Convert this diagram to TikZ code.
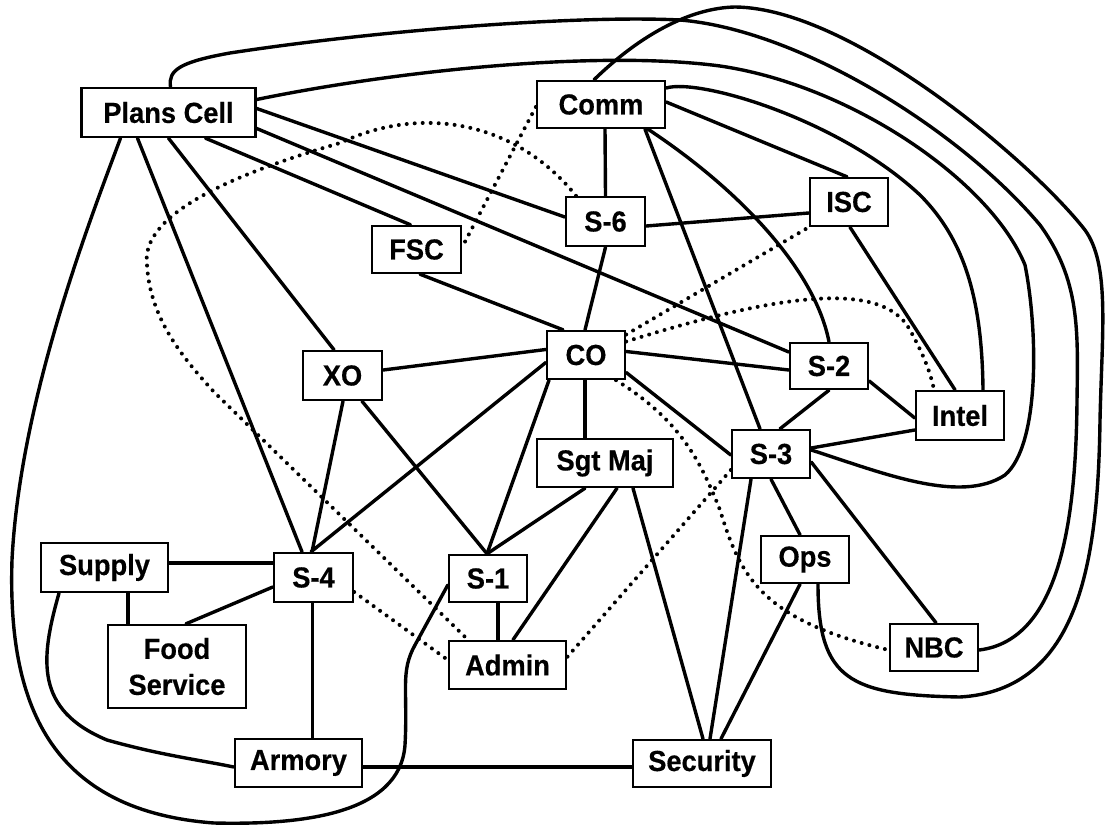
\documentclass[tikz,border=0pt]{standalone}
\usepackage{fontspec}
\setmainfont{Liberation Sans}[FakeStretch=0.94, BoldFeatures={FakeBold=0.4}]
\pgfdeclarelayer{bg}
\pgfsetlayers{bg,main}
\tikzset{
  box/.style={draw, line width=2.4pt, fill=white, inner sep=0pt, minimum height=47pt,
    font=\fontsize{29}{36}\selectfont\bfseries, align=center},
  link/.style={line width=3.4pt, line join=round, line cap=round},
  dots/.style={line width=4pt, dash pattern=on 0pt off 8pt, line cap=round},
}
\begin{document}
\begin{tikzpicture}[x=1pt,y=-1pt]
\useasboundingbox (0,0) rectangle (1107,826);

% units and staff sections
\node[box, minimum width=174pt, minimum height=49pt] (pc) at (168.5,112.5) {Plans Cell};
\node[box, minimum width=128pt] (comm) at (601,104.5) {Comm};
\node[box, minimum width=79pt, minimum height=49pt] (s6) at (605.5,221.5) {S-6};
\node[box, minimum width=78pt, minimum height=48pt] (isc) at (849,202) {ISC};
\node[box, minimum width=89pt] (fsc) at (416.5,249.5) {FSC};
\node[box, minimum width=78pt, minimum height=48pt] (co) at (586,355) {CO};
\node[box, minimum width=79pt, minimum height=49pt] (xo) at (342.5,375.5) {XO};
\node[box, minimum width=78pt, minimum height=46pt] (s2) at (829,366) {S-2};
\node[box, minimum width=88pt, minimum height=49pt] (intel) at (960,415.5) {Intel};
\node[box, minimum width=78pt, minimum height=48pt] (s3) at (771,454) {S-3};
\node[box, minimum width=136pt, minimum height=48pt] (sgt) at (605,463) {Sgt Maj};
\node[box, minimum width=88pt] (ops) at (805,559.5) {Ops};
\node[box, minimum width=88pt] (nbc) at (934,647.5) {NBC};
\node[box, minimum width=127pt, minimum height=49pt] (supply) at (104.5,567.5) {Supply};
\node[box, minimum width=79pt, minimum height=49pt] (s4) at (313.5,577.5) {S-4};
\node[box, minimum width=78pt] (s1) at (488,578.5) {S-1};
\node[box, minimum width=138pt, minimum height=83pt] (food) at (177,666.5) {Food\\Service};
\node[box, minimum width=117pt, minimum height=48pt] (admin) at (507.5,665) {Admin};
\node[box, minimum width=127pt, minimum height=48pt] (armory) at (298.5,763) {Armory};
\node[box, minimum width=138pt] (security) at (702,763.5) {Security};

\begin{pgfonlayer}{bg}
% Plans Cell
\draw[link] ([yshift=4pt]pc.east) -- ([yshift=4.5pt]s6.west);
\draw[link] ([yshift=-16pt]pc.east) -- ([yshift=14pt]s2.west);
\draw[link] ([xshift=37pt]pc.south) -- ([xshift=-6pt]fsc.north);
\draw[link] (pc.south) -- ([xshift=-8.5pt]xo.north);
\draw[link] ([xshift=-31pt]pc.south) -- ([xshift=-11.5pt]s4.north);
\draw[link] ([xshift=-48pt]pc.south) .. controls (90,220) and (20,400) .. (12,560)
  .. controls (8,690) and (40,810) .. (214,823)
  .. controls (300,825) and (400,815) .. (405,745)
  .. controls (408,690) and (400,672) .. (415,645) -- ([yshift=-6.5pt]s1.west);
\draw[link] ([xshift=2pt]pc.north) .. controls (168,70) and (180,62) .. (230,53)
  .. controls (380,30) and (580,15) .. (680,20)
  .. controls (800,30) and (960,130) .. (1040,225)
  .. controls (1080,280) and (1078,330) .. (1077,400)
  .. controls (1076,520) and (1060,640) .. ([yshift=-2.5pt]nbc.east);

% Comm
\draw[link] ([xshift=-7pt]comm.north) .. controls (640,35) and (690,8) .. (735,7)
  .. controls (850,8) and (1030,160) .. (1085,230)
  .. controls (1110,265) and (1102,330) .. (1100,420)
  .. controls (1098,560) and (1080,690) .. (960,697)
  .. controls (850,695) and (818,680) .. ([xshift=13pt]ops.south);
\draw[link] ([yshift=16.5pt]comm.east) .. controls (700,78) and (840,120) .. (920,195)
  .. controls (965,240) and (982,300) .. ([xshift=23pt]intel.north);
\draw[link] ([yshift=2.5pt]comm.east) -- ([xshift=-2pt]isc.north);
\draw[link] ([xshift=4pt]comm.south) -- (s6.north);
\draw[link] ([xshift=44pt]comm.south) -- ([xshift=-11pt]s3.north);
\draw[link] ([xshift=47pt]comm.south) .. controls (740,190) and (815,270) .. (s2.north);

% centre of the net
\draw[link] ([yshift=-4.5pt]s6.east) -- ([yshift=-11pt]isc.west);
\draw[link] (s6.south) -- ([xshift=-1pt]co.north);
\draw[link] ([xshift=1pt]isc.south) -- ([xshift=-5pt]intel.north);
\draw[link] ([xshift=3.5pt]fsc.south) -- ([xshift=-23pt]co.north);
\draw[link] ([yshift=5.5pt]xo.east) -- ([yshift=5.5pt]co.west);
\draw[link] ([yshift=3.5pt]co.east) -- ([yshift=-4pt]s2.west);
\draw[link] ([yshift=-17.5pt]co.east) -- ([yshift=-1pt]s3.west);
\draw[link] ([xshift=-1pt]co.south) -- ([xshift=-20pt]sgt.north);
\draw[link] ([yshift=-7.5pt]co.west) -- ([xshift=-2.5pt]s4.north);
\draw[link] ([xshift=-37pt]co.south) -- ([xshift=-1pt]s1.north);
\draw[link] ([xshift=0.5pt]xo.south) -- ([xshift=-1.5pt]s4.north);
\draw[link] ([xshift=19.5pt]xo.south) -- ([xshift=-1pt]s1.north);
\draw[link] ([xshift=-20pt]sgt.south) -- ([xshift=-1pt]s1.north);
\draw[link] ([xshift=12pt]sgt.south) -- ([xshift=5.5pt]admin.north);
\draw[link] ([xshift=28pt]sgt.south) -- ([xshift=1pt]security.north);
\draw[link] (s2.south) -- ([xshift=9pt]s3.north);
\draw[link] ([yshift=-15pt]s2.east) -- ([yshift=-2.5pt]intel.west);
\draw[link] ([yshift=6pt]s3.east) -- ([yshift=-14.5pt]intel.west);
\draw[link] (s3.south) -- ([xshift=-5pt]ops.north);
\draw[link] ([yshift=-8pt]s3.east) -- ([xshift=2pt]nbc.north);
\draw[link] ([xshift=-20pt]s3.south) -- ([xshift=8pt]security.north);
\draw[link] ([xshift=-5pt]ops.south) -- ([xshift=19pt]security.north);
\draw[link] ([yshift=4pt]s3.east) .. controls (880,472) and (960,505) .. (1005,475)
  .. controls (1040,445) and (1038,330) .. (1025,265)
  .. controls (990,180) and (850,85) .. (720,66)
  .. controls (600,50) and (400,70) .. ([yshift=13pt]pc.east);

% logistics
\draw[link] ([yshift=4.5pt]supply.east) -- ([yshift=14.5pt]s4.west);
\draw[link] ([xshift=23.5pt]supply.south) -- ([xshift=-49pt]food.north);
\draw[link] ([yshift=-9.5pt]s4.west) -- ([xshift=9pt]food.north);
\draw[link] ([xshift=-1pt]s4.south) -- ([xshift=14pt]armory.north);
\draw[link] ([yshift=-4pt]armory.east) -- ([yshift=-3.5pt]security.west);
\draw[link] ([xshift=-45.5pt]supply.south) .. controls (40,660) and (35,710) .. (107,740)
  .. controls (160,755) and (200,760) .. ([yshift=-4pt]armory.west);
\draw[link] ([xshift=10pt]s1.south) -- ([xshift=-9.5pt]admin.north);

% dotted links
\draw[dots] ([yshift=-2.5pt]comm.west) -- ([yshift=2.5pt]fsc.east);
\draw[dots] ([xshift=-29.5pt]s6.north) .. controls (515,120) and (420,105) .. (340,143)
  .. controls (230,175) and (140,215) .. (147,265)
  .. controls (150,320) and (185,360) .. (214,392) -- ([xshift=-39.5pt]admin.north);
\draw[dots] ([yshift=-14.5pt]s4.east) -- ([yshift=5pt]admin.west);
\draw[dots] ([yshift=20.5pt]co.east) -- (isc.south west);
\draw[dots] ([yshift=13.5pt]co.east) .. controls (760,300) and (880,275) .. (910,330)
  .. controls (922,352) and (930,370) .. ([xshift=-26pt]intel.north);
\draw[dots] ([xshift=30pt]co.south) .. controls (680,420) and (700,460) .. (720,510)
  .. controls (740,575) and (760,620) .. ([yshift=-2.5pt]nbc.west);
\draw[dots] ([yshift=-16pt]s3.west) -- ([yshift=8pt]admin.east);
\end{pgfonlayer}
\end{tikzpicture}
\end{document}
